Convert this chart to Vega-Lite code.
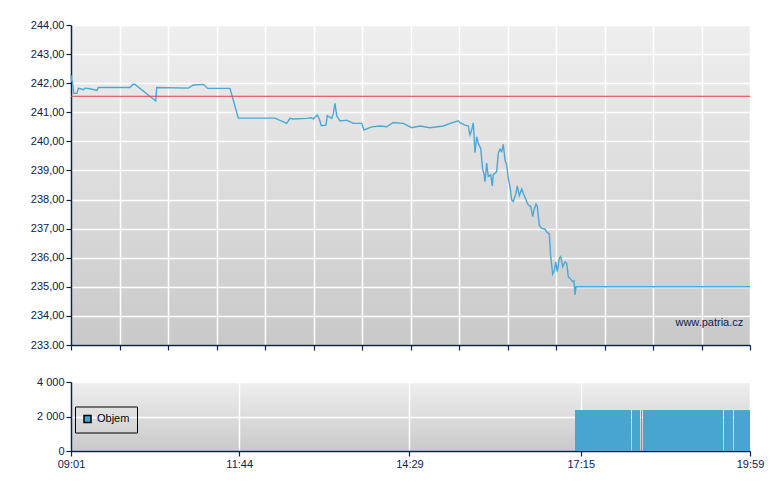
{
  "$schema": "https://vega.github.io/schema/vega-lite/v6.json",
  "background": "white",
  "padding": {"left": 30, "top": 19, "right": 5, "bottom": 5},
  "config": {
    "font": "Liberation Sans",
    "view": {"stroke": null, "fill": {"gradient": "linear", "x1": 0, "y1": 0, "x2": 0, "y2": 1, "stops": [{"offset": 0, "color": "#efefef"}, {"offset": 1, "color": "#c9c9c9"}]}},
    "axis": {"labelFont": "Liberation Sans", "labelFontSize": 11, "labelColor": "#0b2150", "domainColor": "#0b2150", "domainWidth": 1.5, "tickColor": "#0b2150", "tickWidth": 1.2, "tickSize": 5, "gridColor": "#ffffff", "gridWidth": 1.5, "gridOpacity": 1, "title": null, "labelPadding": 2, "labelFlush": false, "labelOverlap": false}
  },
  "datasets": {
    "price": [
      {"time": "2024-03-01T09:01:00", "price": 242.28},
      {"time": "2024-03-01T09:01:41", "price": 242.05},
      {"time": "2024-03-01T09:02:16", "price": 242.10},
      {"time": "2024-03-01T09:03:37", "price": 241.65},
      {"time": "2024-03-01T09:06:49", "price": 241.65},
      {"time": "2024-03-01T09:08:04", "price": 241.82},
      {"time": "2024-03-01T09:11:22", "price": 241.80},
      {"time": "2024-03-01T09:12:55", "price": 241.77},
      {"time": "2024-03-01T09:14:34", "price": 241.83},
      {"time": "2024-03-01T09:19:25", "price": 241.81},
      {"time": "2024-03-01T09:26:12", "price": 241.75},
      {"time": "2024-03-01T09:27:28", "price": 241.85},
      {"time": "2024-03-01T09:58:11", "price": 241.85},
      {"time": "2024-03-01T10:01:22", "price": 241.97},
      {"time": "2024-03-01T10:03:01", "price": 241.96},
      {"time": "2024-03-01T10:23:05", "price": 241.39},
      {"time": "2024-03-01T10:24:03", "price": 241.85},
      {"time": "2024-03-01T10:54:40", "price": 241.83},
      {"time": "2024-03-01T10:59:31", "price": 241.94},
      {"time": "2024-03-01T11:09:12", "price": 241.96},
      {"time": "2024-03-01T11:13:28", "price": 241.82},
      {"time": "2024-03-01T11:35:05", "price": 241.82},
      {"time": "2024-03-01T11:43:08", "price": 240.80},
      {"time": "2024-03-01T12:18:41", "price": 240.80},
      {"time": "2024-03-01T12:30:02", "price": 240.62},
      {"time": "2024-03-01T12:33:14", "price": 240.79},
      {"time": "2024-03-01T12:36:25", "price": 240.77},
      {"time": "2024-03-01T12:49:25", "price": 240.79},
      {"time": "2024-03-01T12:54:15", "price": 240.81},
      {"time": "2024-03-01T12:55:48", "price": 240.77},
      {"time": "2024-03-01T12:59:41", "price": 240.91},
      {"time": "2024-03-01T13:01:37", "price": 240.77},
      {"time": "2024-03-01T13:03:34", "price": 240.54},
      {"time": "2024-03-01T13:08:07", "price": 240.56},
      {"time": "2024-03-01T13:09:22", "price": 240.88},
      {"time": "2024-03-01T13:13:38", "price": 240.79},
      {"time": "2024-03-01T13:15:11", "price": 240.96},
      {"time": "2024-03-01T13:16:50", "price": 241.31},
      {"time": "2024-03-01T13:18:29", "price": 240.88},
      {"time": "2024-03-01T13:21:41", "price": 240.70},
      {"time": "2024-03-01T13:28:10", "price": 240.73},
      {"time": "2024-03-01T13:34:34", "price": 240.62},
      {"time": "2024-03-01T13:42:43", "price": 240.62},
      {"time": "2024-03-01T13:44:56", "price": 240.39},
      {"time": "2024-03-01T13:52:24", "price": 240.50},
      {"time": "2024-03-01T14:00:26", "price": 240.53},
      {"time": "2024-03-01T14:06:56", "price": 240.50},
      {"time": "2024-03-01T14:13:20", "price": 240.65},
      {"time": "2024-03-01T14:23:01", "price": 240.62},
      {"time": "2024-03-01T14:31:10", "price": 240.47},
      {"time": "2024-03-01T14:39:12", "price": 240.53},
      {"time": "2024-03-01T14:48:54", "price": 240.47},
      {"time": "2024-03-01T15:01:47", "price": 240.53},
      {"time": "2024-03-01T15:08:17", "price": 240.62},
      {"time": "2024-03-01T15:16:19", "price": 240.71},
      {"time": "2024-03-01T15:17:58", "price": 240.64},
      {"time": "2024-03-01T15:22:49", "price": 240.56},
      {"time": "2024-03-01T15:26:01", "price": 240.53},
      {"time": "2024-03-01T15:26:59", "price": 240.33},
      {"time": "2024-03-01T15:27:40", "price": 240.22},
      {"time": "2024-03-01T15:29:18", "price": 240.39},
      {"time": "2024-03-01T15:30:52", "price": 240.64},
      {"time": "2024-03-01T15:32:30", "price": 239.61},
      {"time": "2024-03-01T15:34:09", "price": 240.16},
      {"time": "2024-03-01T15:35:42", "price": 239.93},
      {"time": "2024-03-01T15:38:02", "price": 239.76},
      {"time": "2024-03-01T15:39:58", "price": 239.02},
      {"time": "2024-03-01T15:41:14", "price": 238.90},
      {"time": "2024-03-01T15:42:11", "price": 238.61},
      {"time": "2024-03-01T15:43:50", "price": 239.25},
      {"time": "2024-03-01T15:45:23", "price": 238.79},
      {"time": "2024-03-01T15:47:43", "price": 238.85},
      {"time": "2024-03-01T15:49:16", "price": 238.47},
      {"time": "2024-03-01T15:50:14", "price": 238.85},
      {"time": "2024-03-01T15:53:32", "price": 238.96},
      {"time": "2024-03-01T15:55:05", "price": 239.59},
      {"time": "2024-03-01T15:56:44", "price": 239.73},
      {"time": "2024-03-01T15:58:23", "price": 239.65},
      {"time": "2024-03-01T15:59:56", "price": 239.90},
      {"time": "2024-03-01T16:01:34", "price": 239.36},
      {"time": "2024-03-01T16:03:13", "price": 239.19},
      {"time": "2024-03-01T16:04:46", "price": 238.73},
      {"time": "2024-03-01T16:06:25", "price": 238.44},
      {"time": "2024-03-01T16:08:04", "price": 237.98},
      {"time": "2024-03-01T16:09:37", "price": 237.93},
      {"time": "2024-03-01T16:12:14", "price": 238.22},
      {"time": "2024-03-01T16:13:30", "price": 238.47},
      {"time": "2024-03-01T16:15:26", "price": 238.13},
      {"time": "2024-03-01T16:17:46", "price": 238.36},
      {"time": "2024-03-01T16:19:59", "price": 238.16},
      {"time": "2024-03-01T16:22:37", "price": 237.93},
      {"time": "2024-03-01T16:24:10", "price": 237.81},
      {"time": "2024-03-01T16:26:29", "price": 237.76},
      {"time": "2024-03-01T16:28:25", "price": 237.41},
      {"time": "2024-03-01T16:29:41", "price": 237.64},
      {"time": "2024-03-01T16:31:37", "price": 237.84},
      {"time": "2024-03-01T16:32:53", "price": 237.76},
      {"time": "2024-03-01T16:34:49", "price": 237.12},
      {"time": "2024-03-01T16:37:08", "price": 237.01},
      {"time": "2024-03-01T16:40:20", "price": 236.98},
      {"time": "2024-03-01T16:42:34", "price": 236.86},
      {"time": "2024-03-01T16:44:31", "price": 236.82},
      {"time": "2024-03-01T16:45:52", "price": 236.04},
      {"time": "2024-03-01T16:47:48", "price": 235.44},
      {"time": "2024-03-01T16:49:21", "price": 235.55},
      {"time": "2024-03-01T16:50:43", "price": 235.86},
      {"time": "2024-03-01T16:52:16", "price": 235.52},
      {"time": "2024-03-01T16:54:12", "price": 235.98},
      {"time": "2024-03-01T16:55:34", "price": 236.04},
      {"time": "2024-03-01T16:57:30", "price": 235.69},
      {"time": "2024-03-01T16:59:44", "price": 235.86},
      {"time": "2024-03-01T17:01:22", "price": 235.81},
      {"time": "2024-03-01T17:02:55", "price": 235.35},
      {"time": "2024-03-01T17:04:34", "price": 235.29},
      {"time": "2024-03-01T17:07:11", "price": 235.18},
      {"time": "2024-03-01T17:08:27", "price": 235.21},
      {"time": "2024-03-01T17:09:25", "price": 234.72},
      {"time": "2024-03-01T17:10:23", "price": 235.00},
      {"time": "2024-03-01T19:59:00", "price": 235.00}
    ],
    "volume": [
      {"start": "2024-03-01T17:09:25", "end": "2024-03-01T18:03:41", "vol": 2370, "series": "Objem"},
      {"start": "2024-03-01T18:04:39", "end": "2024-03-01T18:12:24", "vol": 2370, "series": "Objem"},
      {"start": "2024-03-01T18:13:22", "end": "2024-03-01T18:14:20", "vol": 2370, "series": "Objem"},
      {"start": "2024-03-01T18:15:19", "end": "2024-03-01T19:32:50", "vol": 2370, "series": "Objem"},
      {"start": "2024-03-01T19:33:49", "end": "2024-03-01T19:42:32", "vol": 2370, "series": "Objem"},
      {"start": "2024-03-01T19:43:30", "end": "2024-03-01T19:59:00", "vol": 2370, "series": "Objem"}
    ],
    "ref": [
      {"level": 241.55, "watermark": "www.patria.cz"}
    ]
  },
  "spacing": 25,
  "resolve": {"legend": {"color": "independent"}},
  "vconcat": [
    {
      "width": 679,
      "height": 320,
      "encoding": {
        "x": {
          "type": "temporal",
          "scale": {"domain": [{"year": 2024, "month": 3, "date": 1, "hours": 9, "minutes": 1}, {"year": 2024, "month": 3, "date": 1, "hours": 19, "minutes": 59}]},
          "axis": {
            "labels": false, "grid": true,
            "values": [
              {"year": 2024, "month": 3, "date": 1, "hours": 9, "minutes": 1},
              {"year": 2024, "month": 3, "date": 1, "hours": 9, "minutes": 48},
              {"year": 2024, "month": 3, "date": 1, "hours": 10, "minutes": 35},
              {"year": 2024, "month": 3, "date": 1, "hours": 11, "minutes": 22},
              {"year": 2024, "month": 3, "date": 1, "hours": 12, "minutes": 9},
              {"year": 2024, "month": 3, "date": 1, "hours": 12, "minutes": 56},
              {"year": 2024, "month": 3, "date": 1, "hours": 13, "minutes": 43},
              {"year": 2024, "month": 3, "date": 1, "hours": 14, "minutes": 30},
              {"year": 2024, "month": 3, "date": 1, "hours": 15, "minutes": 17},
              {"year": 2024, "month": 3, "date": 1, "hours": 16, "minutes": 4},
              {"year": 2024, "month": 3, "date": 1, "hours": 16, "minutes": 51},
              {"year": 2024, "month": 3, "date": 1, "hours": 17, "minutes": 38},
              {"year": 2024, "month": 3, "date": 1, "hours": 18, "minutes": 25},
              {"year": 2024, "month": 3, "date": 1, "hours": 19, "minutes": 12},
              {"year": 2024, "month": 3, "date": 1, "hours": 19, "minutes": 59}
            ]
          }
        },
        "y": {
          "type": "quantitative",
          "scale": {"domain": [233, 244], "zero": false, "nice": false},
          "axis": {
            "values": [233, 234, 235, 236, 237, 238, 239, 240, 241, 242, 243, 244],
            "labelExpr": "datum.value == 233 ? '233.00' : replace(format(datum.value, '.2f'), '.', ',')"
          }
        }
      },
      "layer": [
        {
          "data": {"name": "price"},
          "mark": {"type": "line", "color": "#4aa8d6", "strokeWidth": 1.4},
          "encoding": {
            "x": {"field": "time"},
            "y": {"field": "price"}
          }
        },
        {
          "data": {"name": "ref"},
          "mark": {"type": "rule", "color": "#e04444", "strokeWidth": 1},
          "encoding": {"y": {"field": "level"}, "x": null}
        },
        {
          "data": {"name": "ref"},
          "mark": {"type": "text", "align": "right", "baseline": "middle", "font": "Liberation Sans", "fontSize": 11, "color": "#0b2150"},
          "encoding": {
            "x": {"datum": {"year": 2024, "month": 3, "date": 1, "hours": 19, "minutes": 52, "seconds": 30}},
            "y": {"datum": 233.77},
            "text": {"field": "watermark"}
          }
        }
      ]
    },
    {
      "width": 679,
      "height": 69,
      "data": {"name": "volume"},
      "mark": {"type": "rect"},
      "encoding": {
        "x": {
          "field": "start", "type": "temporal",
          "scale": {"domain": [{"year": 2024, "month": 3, "date": 1, "hours": 9, "minutes": 1}, {"year": 2024, "month": 3, "date": 1, "hours": 19, "minutes": 59}]},
          "axis": {
            "format": "%H:%M", "grid": true,
            "values": [
              {"year": 2024, "month": 3, "date": 1, "hours": 9, "minutes": 1},
              {"year": 2024, "month": 3, "date": 1, "hours": 11, "minutes": 44},
              {"year": 2024, "month": 3, "date": 1, "hours": 14, "minutes": 29},
              {"year": 2024, "month": 3, "date": 1, "hours": 17, "minutes": 15},
              {"year": 2024, "month": 3, "date": 1, "hours": 19, "minutes": 59}
            ]
          }
        },
        "x2": {"field": "end"},
        "y": {
          "field": "vol", "type": "quantitative",
          "scale": {"domain": [0, 4000], "nice": false},
          "axis": {"values": [0, 2000, 4000], "labelExpr": "replace(format(datum.value, ','), ',', ' ')"}
        },
        "y2": {"datum": 0},
        "color": {
          "field": "series", "type": "nominal",
          "scale": {"range": ["#47a5cf"]},
          "legend": {
            "title": null, "orient": "none", "legendX": 4, "legendY": 24.5,
            "strokeColor": "#000000", "padding": 7,
            "symbolType": "square", "symbolSize": 49,
            "symbolStrokeColor": "#000000", "symbolStrokeWidth": 1.5,
            "labelFont": "Liberation Sans", "labelFontSize": 11, "labelColor": "#000000", "labelOffset": 4
          }
        }
      }
    }
  ]
}
